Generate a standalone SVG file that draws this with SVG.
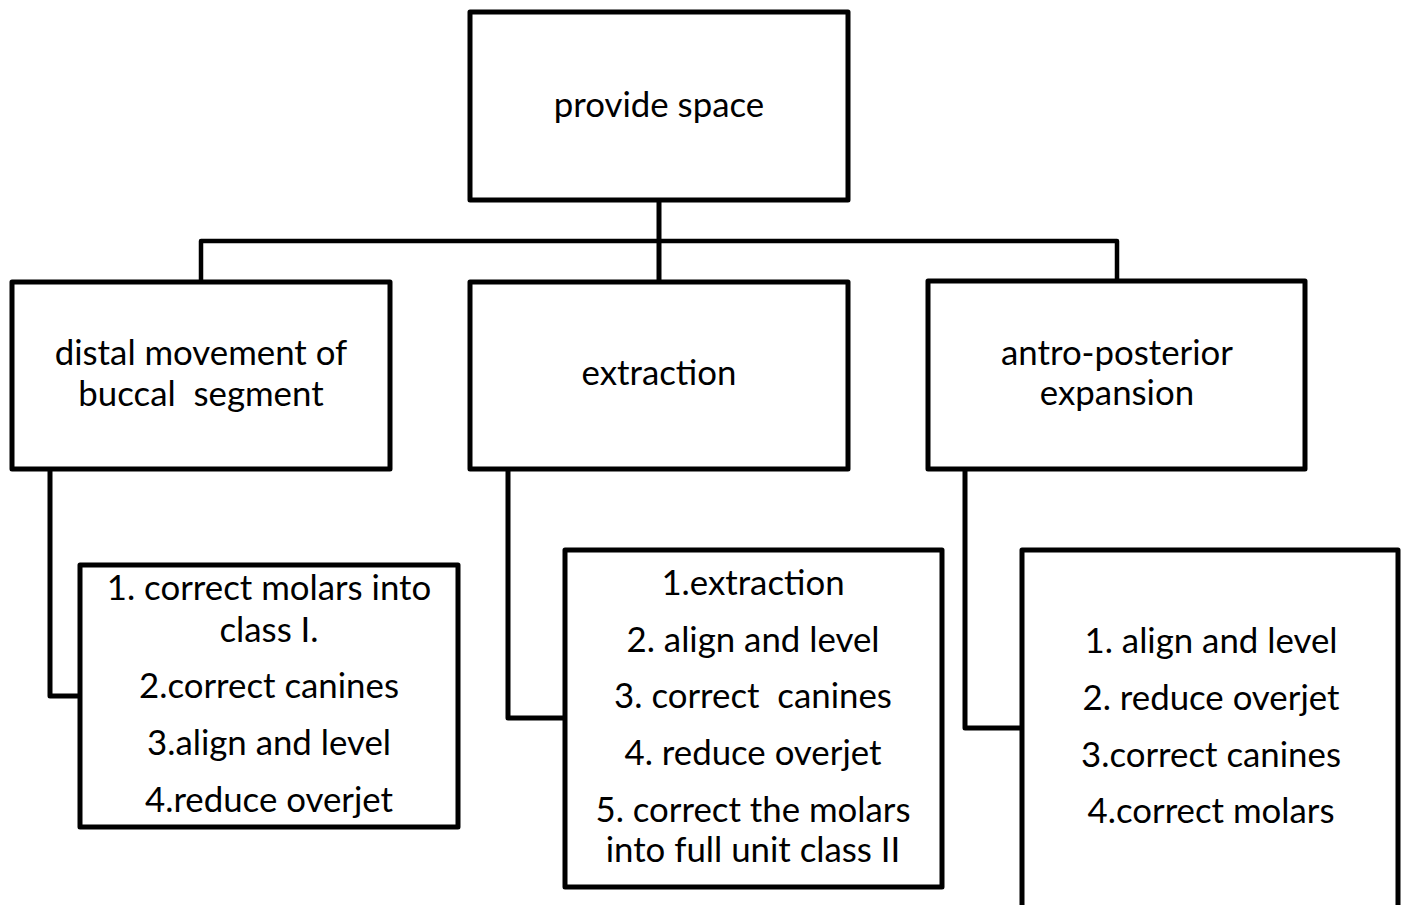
<svg xmlns="http://www.w3.org/2000/svg" width="1403" height="905" viewBox="0 0 1403 905">
<style>
.box{fill:#fff;stroke:#000;stroke-width:5;stroke-linejoin:round}
.conn{fill:none;stroke:#000;stroke-width:5;stroke-linejoin:round}
text{font-family:Lato,"Liberation Sans",sans-serif;font-size:34.8px;fill:#000;text-anchor:middle}
</style>
<rect width="1403" height="905" fill="#fff"/>
<g id="connectors">
<path class="conn" d="M659 200 V280"/>
<path class="conn" d="M201 282 V241 H1117 V281" style="stroke-width:4.5"/>
<path class="conn" d="M50 469 V696 H80"/>
<path class="conn" d="M508 469 V718 H565"/>
<path class="conn" d="M965 469 V728 H1022"/>
</g>
<g id="provide-space">
<rect class="box" x="470" y="12" width="378" height="188"/>
<text x="659" y="117">provide space</text>
</g>
<g id="distal-movement">
<rect class="box" x="12" y="282" width="378" height="187"/>
<text x="201" y="365">distal movement of</text>
<text x="201" y="406" xml:space="preserve">buccal  segment</text>
</g>
<g id="extraction">
<rect class="box" x="470" y="282" width="378" height="187"/>
<text x="659" y="385">extraction</text>
</g>
<g id="antro-posterior">
<rect class="box" x="928" y="281" width="377" height="188"/>
<text x="1117" y="365">antro-posterior</text>
<text x="1117" y="405">expansion</text>
</g>
<g id="distal-steps">
<rect class="box" x="80" y="565" width="378" height="262"/>
<text x="269" y="600">1. correct molars into</text>
<text x="269" y="642">class I.</text>
<text x="269" y="698">2.correct canines</text>
<text x="269" y="755">3.align and level</text>
<text x="269" y="812">4.reduce overjet</text>
</g>
<g id="extraction-steps">
<rect class="box" x="565" y="550" width="377" height="337"/>
<text x="753" y="595">1.extraction</text>
<text x="753" y="652">2. align and level</text>
<text x="753" y="708" xml:space="preserve">3. correct  canines</text>
<text x="753" y="765">4. reduce overjet</text>
<text x="753" y="822">5. correct the molars</text>
<text x="753" y="862">into full unit class II</text>
</g>
<g id="expansion-steps">
<rect class="box" x="1022" y="550" width="376" height="380"/>
<text x="1211" y="653">1. align and level</text>
<text x="1211" y="710">2. reduce overjet</text>
<text x="1211" y="767">3.correct canines</text>
<text x="1211" y="823">4.correct molars</text>
</g>
</svg>
